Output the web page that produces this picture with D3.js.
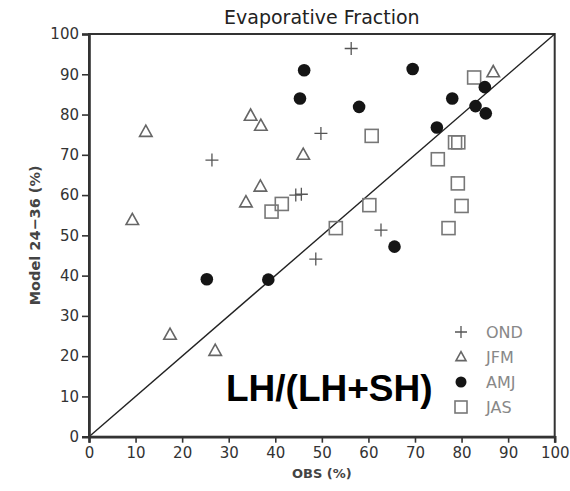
<!DOCTYPE html>
<html>
<head>
<meta charset="utf-8">
<script src="https://cdn.jsdelivr.net/npm/d3@7"></script>
<style>
  html, body { margin: 0; padding: 0; background: #fff; }
  svg { display: block; }
</style>
</head>
<body>
<svg id="chart" width="570" height="491"></svg>
<script>
// ---- data ----
const title = "Evaporative Fraction";
const xLabel = "OBS (%)";
const yLabel = "Model 24\u221236 (%)";
const annotation = "LH/(LH+SH)";
const tickValues = [0, 10, 20, 30, 40, 50, 60, 70, 80, 90, 100];
const seriesNames = ["OND", "JFM", "AMJ", "JAS"];

const ondObs   = [56.3, 49.8, 26.4, 44.4, 45.6, 62.7, 48.7];
const ondModel = [96.4, 75.3, 68.7, 60.0, 60.2, 51.3, 44.1];

const jfmObs   = [12.2, 9.3, 34.7, 36.9, 36.8, 33.7, 46.0, 86.8, 17.4, 27.1];
const jfmModel = [75.7, 53.8, 79.7, 77.2, 62.1, 58.2, 70.0, 90.5, 25.3, 21.3];

const amjObs   = [46.2, 45.3, 69.5, 58.0, 78.0, 85.0, 83.0, 85.2, 74.7, 65.6, 25.3, 38.5];
const amjModel = [91.0, 84.0, 91.3, 81.9, 84.0, 86.8, 82.1, 80.3, 76.8, 47.2, 39.1, 39.0];

const jasObs   = [82.7, 60.7, 78.6, 79.3, 74.9, 79.2, 80.0, 77.2, 60.2, 53.0, 39.2, 41.4];
const jasModel = [89.2, 74.7, 73.1, 73.1, 68.9, 62.9, 57.3, 51.8, 57.5, 51.8, 55.9, 57.8];

// ---- layout ----
const svg = d3.select("#chart");
const pL = 89, pR = 554.7, pT = 34, pB = 436.7;
const x = d3.scaleLinear().domain([0, 100]).range([pL, pR]);
const y = d3.scaleLinear().domain([0, 100]).range([pB, pT]);

const font = "'DejaVu Sans', sans-serif";

// frame (top/right)
svg.append("rect")
  .attr("x", pL).attr("y", pT)
  .attr("width", pR - pL).attr("height", pB - pT)
  .attr("fill", "none").attr("stroke", "#333").attr("stroke-width", 2);

// diagonal 1:1 line
svg.append("line")
  .attr("x1", x(0)).attr("y1", y(0))
  .attr("x2", x(100)).attr("y2", y(100))
  .attr("stroke", "#222").attr("stroke-width", 1.4);

// axes
const xAxis = d3.axisBottom(x).tickValues(tickValues).tickSize(6).tickPadding(5);
const yAxis = d3.axisLeft(y).tickValues(tickValues).tickSize(7).tickPadding(3);

const gx = svg.append("g").attr("transform", `translate(0,${pB})`).call(xAxis);
const gy = svg.append("g").attr("transform", `translate(${pL},0)`).call(yAxis);
[gx, gy].forEach(g => {
  g.select(".domain").attr("stroke", "#333").attr("stroke-width", 2.6);
  g.selectAll(".tick line").attr("stroke", "#333").attr("stroke-width", 1.6);
  g.selectAll(".tick text")
    .attr("font-family", font).attr("font-size", 15).attr("fill", "#333");
});

// title & labels
svg.append("text")
  .attr("x", (pL + pR) / 2).attr("y", 24)
  .attr("text-anchor", "middle")
  .attr("font-family", font).attr("font-size", 19).attr("fill", "#222")
  .text(title);

svg.append("text")
  .attr("x", (pL + pR) / 2).attr("y", 478)
  .attr("text-anchor", "middle")
  .attr("font-family", font).attr("font-size", 13).attr("font-weight", "bold").attr("fill", "#444")
  .text(xLabel);

svg.append("text")
  .attr("transform", `translate(40,${(pT + pB) / 2}) rotate(-90)`)
  .attr("text-anchor", "middle")
  .attr("font-family", font).attr("font-size", 14.5).attr("font-weight", "bold").attr("fill", "#444")
  .text(yLabel);

// ---- marker drawers ----
function plus(g, cx, cy, h) {
  g.append("path")
    .attr("d", `M${cx - h},${cy}H${cx + h}M${cx},${cy - h}V${cy + h}`)
    .attr("stroke", "#555").attr("stroke-width", 1.3).attr("fill", "none");
}
function tri(g, cx, cy, w) {
  const hh = w * 0.9;
  g.append("path")
    .attr("d", `M${cx},${cy - hh * 0.6}L${cx + w / 2},${cy + hh * 0.4}L${cx - w / 2},${cy + hh * 0.4}Z`)
    .attr("stroke", "#666").attr("stroke-width", 1.6).attr("fill", "none");
}
function circ(g, cx, cy, r) {
  g.append("circle").attr("cx", cx).attr("cy", cy).attr("r", r).attr("fill", "#151515");
}
function sq(g, cx, cy, s) {
  g.append("rect").attr("x", cx - s / 2).attr("y", cy - s / 2)
    .attr("width", s).attr("height", s)
    .attr("stroke", "#777").attr("stroke-width", 1.6).attr("fill", "none");
}

const marks = svg.append("g");
jasObs.forEach((d, i) => sq(marks, x(d), y(jasModel[i]), 13));
ondObs.forEach((d, i) => plus(marks, x(d), y(ondModel[i]), 6.5));
jfmObs.forEach((d, i) => tri(marks, x(d), y(jfmModel[i]), 12.5));
amjObs.forEach((d, i) => circ(marks, x(d), y(amjModel[i]), 6.3));

// ---- legend ----
const legX = 461, legTextX = 486, legY0 = 332, legDy = 25;
const leg = svg.append("g");
const drawers = [
  (cx, cy) => plus(leg, cx, cy, 6),
  (cx, cy) => tri(leg, cx, cy, 10),
  (cx, cy) => circ(leg, cx, cy, 5.5),
  (cx, cy) => sq(leg, cx, cy, 12)
];
seriesNames.forEach((name, i) => {
  const cy = legY0 + i * legDy;
  drawers[i](legX, cy);
  leg.append("text")
    .attr("x", legTextX).attr("y", cy + 6)
    .attr("font-family", font).attr("font-size", 16).attr("fill", "#888")
    .text(name);
});

// ---- annotation ----
svg.append("text")
  .attr("x", 226).attr("y", 401)
  .attr("font-family", "'Liberation Sans', Arial, sans-serif")
  .attr("font-size", 37).attr("font-weight", "bold").attr("fill", "#000")
  .text(annotation);
</script>
</body>
</html>
